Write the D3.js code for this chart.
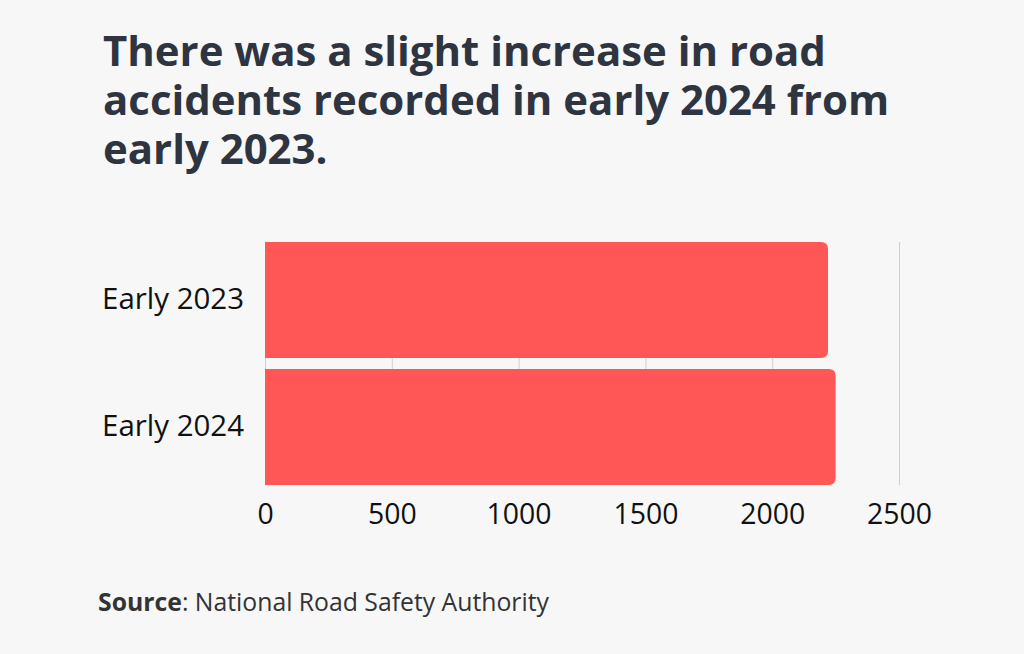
<!DOCTYPE html>
<html><head><meta charset="utf-8">
<script src="https://cdn.jsdelivr.net/npm/d3@7"></script>
<style>
html,body{margin:0;padding:0;background:#f7f7f7;}
svg{display:block;}
</style></head>
<body>
<script>
const titleLines = ["There was a slight increase in road", "accidents recorded in early 2024 from", "early 2023."];
const categories = ["Early 2023", "Early 2024"];
const values = [2220, 2250];
const ticks = [0, 500, 1000, 1500, 2000, 2500];
const sourceLabel = "Source";
const sourceText = ": National Road Safety Authority";

const W = 1024, H = 654;
const FONT = "'Open Sans', 'Noto Sans', sans-serif";
const svg = d3.select("body").append("svg").attr("width", W).attr("height", H);
svg.append("rect").attr("width", W).attr("height", H).attr("fill", "#f7f7f7");

function fitSize(sel, target) {
  const n = sel.node();
  const fs = parseFloat(sel.attr("font-size"));
  const w = n.getComputedTextLength();
  return fs * target / w;
}

// Title
const titleWidths = [723, 790, 228];
const tl = svg.append("g").selectAll("text").data(titleLines).join("text")
  .attr("x", 103).attr("y", (d, i) => 66 + i * 49)
  .attr("font-family", FONT).attr("font-weight", 700)
  .attr("font-size", 40).attr("fill", "#2e3440").text(d => d);
let sizes = [];
tl.each(function(d, i) { sizes.push(fitSize(d3.select(this), titleWidths[i])); });
tl.attr("font-size", d3.min(sizes.slice(0, 2)).toFixed(2));

// Scales
const x = d3.scaleLinear().domain([0, 2500]).range([265, 899]);
const y = d3.scaleBand().domain(categories).range([242, 485]).paddingInner(0.087).paddingOuter(0);

// Gridlines
svg.append("g").selectAll("line").data(ticks).join("line")
  .attr("x1", d => x(d) + 0.5).attr("x2", d => x(d) + 0.5)
  .attr("y1", 242).attr("y2", 485)
  .attr("stroke", "#cfcfcf").attr("stroke-width", 1);

// Bars with right rounded corners
const r = 7;
svg.append("g").selectAll("path").data(categories).join("path")
  .attr("d", (c, i) => {
    const x0 = x(0), x1 = x(values[i]), y0 = y(c), y1 = y(c) + y.bandwidth();
    return `M${x0},${y0}H${x1 - r}Q${x1},${y0} ${x1},${y0 + r}V${y1 - r}Q${x1},${y1} ${x1 - r},${y1}H${x0}Z`;
  })
  .attr("fill", "#ff5656");

// Category labels
const cl = svg.append("g").selectAll("text").data(categories).join("text")
  .attr("x", 244).attr("y", c => y(c) + y.bandwidth() / 2 + 9)
  .attr("text-anchor", "end")
  .attr("font-family", FONT).attr("font-size", 24).attr("fill", "#111")
  .text(c => c);
cl.attr("font-size", fitSize(d3.select(cl.nodes()[0]), 142).toFixed(2));

// X axis labels
const xAxis = d3.axisBottom(x).tickValues(ticks).tickSize(0).tickPadding(0).tickFormat(d3.format("d"));
const ax = svg.append("g").attr("transform", "translate(0,500)").call(xAxis);
ax.select(".domain").remove();
const axt = ax.selectAll("text").attr("font-family", FONT).attr("font-size", 25).attr("fill", "#111")
  .attr("dy", null).attr("y", 24);
axt.attr("font-size", fitSize(d3.select(axt.nodes()[5]), 65).toFixed(2));

// Source
const src = svg.append("text").attr("x", 98).attr("y", 611)
  .attr("font-family", FONT).attr("font-size", 20).attr("fill", "#333");
src.append("tspan").attr("font-weight", 700).text(sourceLabel);
src.append("tspan").text(sourceText);
src.attr("font-size", fitSize(src, 451).toFixed(2));
</script>
</body></html>
